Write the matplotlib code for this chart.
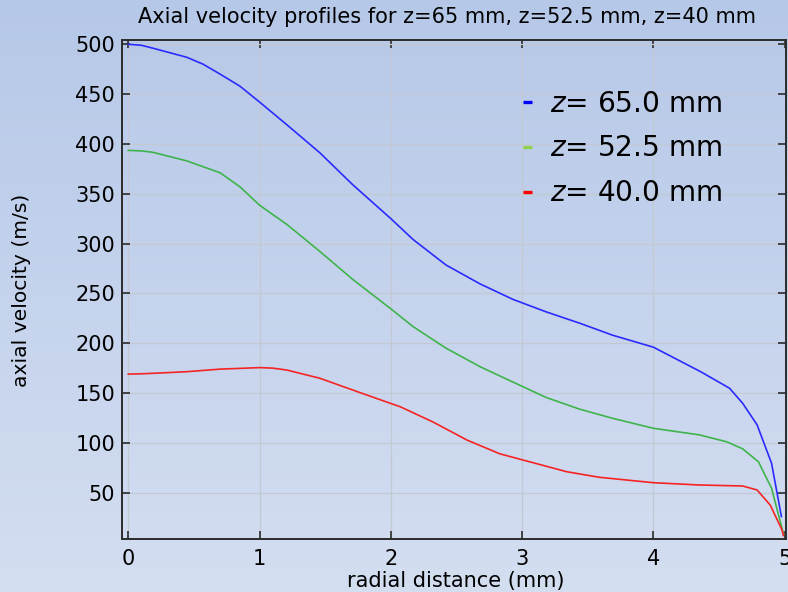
import numpy as np
import matplotlib
matplotlib.use("Agg")
import matplotlib.pyplot as plt
from matplotlib.lines import Line2D

# radial distance (mm) and axial velocity (m/s)
r_65 = [0, 0.1, 0.19, 0.445, 0.57, 0.70, 0.85, 1.0, 1.21, 1.46, 1.71, 2.0, 2.17, 2.42,
        2.68, 2.93, 3.18, 3.44, 3.69, 4.0, 4.36, 4.58, 4.68, 4.79, 4.90, 4.975]
v_65 = [500, 499, 496, 487, 480, 470, 458, 442, 419, 391, 359, 325, 304, 278.5,
        259.5, 244, 231.6, 220, 208, 196, 171.4, 154.8, 139.7, 118, 79.5, 26]

r_52 = [0, 0.1, 0.19, 0.445, 0.70, 0.85, 1.0, 1.21, 1.46, 1.71, 2.0, 2.17, 2.42, 2.68,
        2.93, 3.18, 3.44, 3.69, 4.0, 4.35, 4.56, 4.68, 4.80, 4.90, 4.99]
v_52 = [393.5, 393, 391.5, 383, 371, 357, 338.5, 319, 292, 264, 234.5, 216.6, 195, 176.4,
        161, 145.7, 133.7, 124.6, 114.6, 108, 101, 94, 81, 54.4, 9]

r_40 = [0, 0.1, 0.19, 0.445, 0.70, 1.0, 1.1, 1.21, 1.46, 1.71, 2.0, 2.07, 2.32, 2.58,
        2.83, 3.0, 3.34, 3.59, 4.0, 4.35, 4.68, 4.79, 4.89, 4.98, 4.99]
v_40 = [169, 169.3, 169.8, 171.4, 174, 175.5, 175, 173, 164.8, 153, 139.5, 136.3, 121,
        102.8, 89, 83, 71, 65.4, 60, 57.7, 56.7, 52.7, 37.5, 12.5, 7]

legend_labels = ["= 65.0 mm", "= 52.5 mm", "= 40.0 mm"]
x_ticks = [0, 1, 2, 3, 4, 5]
y_ticks = [50, 100, 150, 200, 250, 300, 350, 400, 450, 500]

fig = plt.figure(figsize=(7.88, 5.92), dpi=100)

# slide-like gradient background
bg = fig.add_axes([0, 0, 1, 1], zorder=-10)
grad = np.linspace(0, 1, 256).reshape(-1, 1)
top = np.array([182, 200, 232]) / 255
bot = np.array([212, 222, 241]) / 255
img = top + (bot - top) * grad[:, :, None]
bg.imshow(img, aspect="auto", extent=[0, 1, 0, 1])
bg.axis("off")

ax = fig.add_axes([122 / 788, 1 - 539 / 592, (786 - 122) / 788, (539 - 40) / 592])
ax.set_facecolor("none")

ax.plot(r_65, v_65, color="#2b2bff", lw=1.2)
ax.plot(r_52, v_52, color="#3fb44c", lw=1.2)
ax.plot(r_40, v_40, color="#f52424", lw=1.2)

ax.set_xlim(-0.048, 5.01)
ax.set_ylim(3.5, 504.3)
ax.set_xticks(x_ticks)
ax.set_yticks(y_ticks)
ax.grid(True, color="#c3c9d3", lw=0.9)
ax.set_axisbelow(True)

for s in ax.spines.values():
    s.set_color("#2b2b2b")
    s.set_linewidth(1.4)

ax.tick_params(direction="in", length=6, width=1.2, color="#2b2b2b",
               top=True, right=True, labelsize=15)
ax.tick_params(axis="y", pad=5)
ax.tick_params(axis="x", pad=7)

ax.set_xlabel("radial distance (mm)", fontsize=15)
ax.xaxis.set_label_coords(0.503, -0.064)
fig.text(22 / 788, 1 - 290 / 592, "axial velocity (m/s)", rotation=90,
         ha="center", va="center", fontsize=14.6)
fig.text(447 / 788, 1 - 17 / 592,
         "Axial velocity profiles for z=65 mm, z=52.5 mm, z=40 mm",
         ha="center", va="center", fontsize=15)

# legend drawn as separate marks + labels
leg_colors = ["#0000ff", "#92d050", "#ff0000"]
for i, (lab, c) in enumerate(zip(legend_labels, leg_colors)):
    yb = 111.5 + 44.6 * i
    ym = 102 + 45 * i
    fig.add_artist(Line2D([523 / 788, 532 / 788], [1 - ym / 592, 1 - ym / 592],
                          color=c, lw=2.4, solid_capstyle="butt"))
    fig.text(550 / 788, 1 - yb / 592, "$z$" + lab, ha="left", va="baseline",
             fontsize=20.2)

fig.savefig("out.png", dpi=100)
